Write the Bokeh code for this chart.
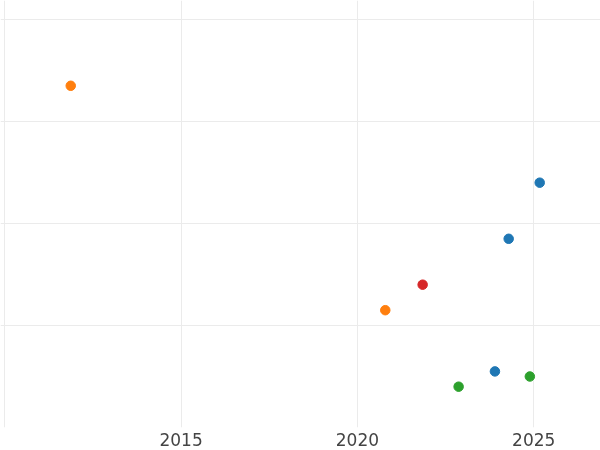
from bokeh.plotting import figure
from bokeh.models import FixedTicker, Range1d
from bokeh.embed import file_html
from bokeh.resources import INLINE

# data
years = [2011.87, 2025.17, 2024.29, 2021.85, 2020.79, 2023.90, 2022.87, 2024.89]
values = [33.5, 24.0, 18.5, 14.0, 11.5, 5.5, 4.0, 5.0]
colors = ["#ff7f0e", "#1f77b4", "#1f77b4", "#d62728", "#ff7f0e", "#1f77b4", "#2ca02c", "#2ca02c"]
x_tick_labels = [2015, 2020, 2025]
x_grid_ticks = [2010, 2015, 2020, 2025]
y_grid_ticks = [10, 20, 30, 40]

p = figure(width=600, height=450, output_backend="svg", toolbar_location=None,
           x_range=Range1d(2009.878, 2026.894), y_range=Range1d(0, 41.86),
           min_border_left=0, min_border_right=0, min_border_top=0, min_border_bottom=23,
           background_fill_color="white", border_fill_color="white",
           styles={"position": "fixed", "left": "0px", "top": "0px"})
p.outline_line_color = None

p.scatter(x=years, y=values, size=9.5, fill_color=colors, line_color=colors)

p.yaxis.visible = False
ax = p.xaxis[0]
ax.ticker = FixedTicker(ticks=x_tick_labels)
ax.axis_line_color = None
ax.major_tick_line_color = None
ax.minor_tick_line_color = None
ax.major_tick_out = 0
ax.major_tick_in = 0
ax.major_label_standoff = 5
ax.major_label_text_font = "DejaVu Sans"
ax.major_label_text_font_size = "17px"
ax.major_label_text_color = "#444444"

p.xgrid.ticker = FixedTicker(ticks=x_grid_ticks)
p.ygrid.ticker = FixedTicker(ticks=y_grid_ticks)
p.xgrid.grid_line_color = "#ebebeb"
p.ygrid.grid_line_color = "#ebebeb"
p.xgrid.grid_line_width = 1
p.ygrid.grid_line_width = 1

open("out.html", "w").write(file_html(p, INLINE))
